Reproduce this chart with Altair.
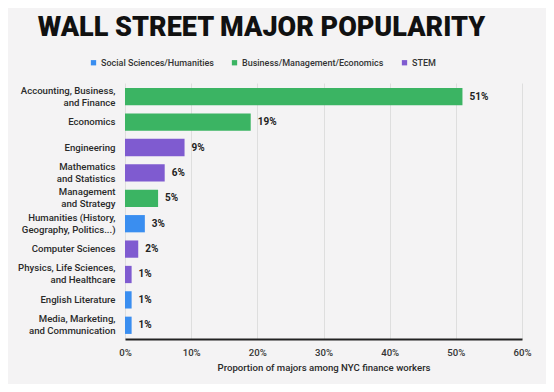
import altair as alt
import pandas as pd

majors = [
    "Accounting, Business,|and Finance",
    "Economics",
    "Engineering",
    "Mathematics|and Statistics",
    "Management|and Strategy",
    "Humanities (History,|Geography, Politics...)",
    "Computer Sciences",
    "Physics, Life Sciences,|and Healthcare",
    "English Literature",
    "Media, Marketing,|and Communication",
]
shares = [51, 19, 9, 6, 5, 3, 2, 1, 1, 1]
groups = [
    "Business/Management/Economics",
    "Business/Management/Economics",
    "STEM",
    "STEM",
    "Business/Management/Economics",
    "Social Sciences/Humanities",
    "STEM",
    "STEM",
    "Social Sciences/Humanities",
    "Social Sciences/Humanities",
]
group_order = ["Social Sciences/Humanities", "Business/Management/Economics", "STEM"]
group_colors = ["#3a8ef0", "#3bb463", "#7f5bd0"]
x_ticks = [0, 0.1, 0.2, 0.3, 0.4, 0.5, 0.6]

df = pd.DataFrame({
    "major": majors,
    "share": [s / 100 for s in shares],
    "label": [f"{s}%" for s in shares],
    "group": groups,
})

font = "Roboto"

base = alt.Chart(df).encode(
    y=alt.Y(
        "major:N",
        sort=majors,
        scale=alt.Scale(paddingInner=0.32, paddingOuter=0.2),
        axis=alt.Axis(
            title=None,
            labelExpr="split(datum.label, '|')",
            labelFont=font,
            labelFontSize=9.6,
            labelFontWeight=500,
            labelColor="#2a2a2a",
            labelLineHeight=12,
            labelOffset={
                "condition": {"test": "indexof(datum.label, '|') >= 0", "value": -6},
                "value": 0,
            },
            labelPadding=10,
            ticks=False,
            domain=False,
            grid=False,
        ),
    ),
)

bars = base.mark_bar().encode(
    x=alt.X(
        "share:Q",
        scale=alt.Scale(domain=[0, 0.6]),
        axis=alt.Axis(
            title="Proportion of majors among NYC finance workers",
            values=x_ticks,
            format=".0%",
            labelFlush=False,
            labelFont=font,
            labelFontSize=9.6,
            labelFontWeight=500,
            labelColor="#333333",
            labelPadding=8,
            titleFont=font,
            titleFontSize=9.6,
            titleFontWeight=500,
            titleColor="#2a2a2a",
            titlePadding=6,
            ticks=False,
            domainColor="#222222",
            domainWidth=2,
            grid=True,
            gridColor="#dedede",
            gridWidth=1,
        ),
    ),
    color=alt.Color(
        "group:N",
        scale=alt.Scale(domain=group_order, range=group_colors),
        legend=alt.Legend(
            title=None,
            orient="none",
            legendX=-36,
            legendY=-25,
            direction="horizontal",
            symbolType="square",
            symbolSize=28,
            symbolStrokeWidth=0,
            labelFont=font,
            labelFontSize=9,
            labelFontWeight=500,
            labelColor="#333333",
            labelOffset=3,
            columnPadding=16,
        ),
    ),
)

texts = base.mark_text(
    align="left", baseline="middle", dx=7, font=font, fontSize=10,
    fontWeight="bold", color="#222222",
).encode(
    x="share:Q",
    text="label:N",
)

chart = (
    (bars + texts)
    .properties(
        width=397,
        height=256,
        autosize=alt.AutoSizeParams(type="none"),
        padding={"left": 117, "top": 75, "right": 24, "bottom": 45},
        background="#f4f3f4",
        title=alt.TitleParams(
            "WALL STREET MAJOR POPULARITY",
            font=font,
            fontSize=27,
            fontWeight=900,
            color="#111111",
            anchor="middle",
            dx=-62,
            offset=16,
        ),
    )
    .configure_view(stroke=None)
)

chart.save("out.html", embed_options={"renderer": "svg", "actions": False})
